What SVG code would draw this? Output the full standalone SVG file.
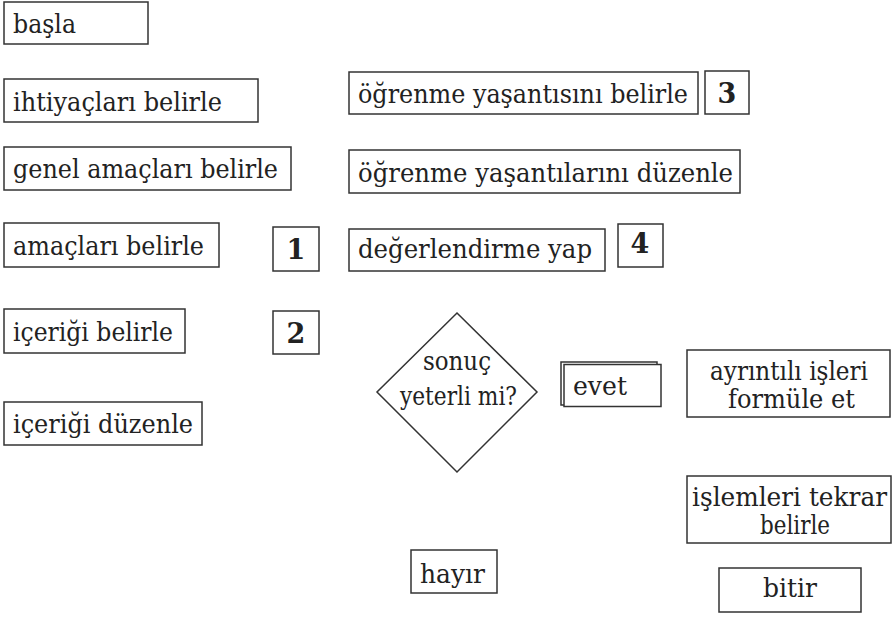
<svg xmlns="http://www.w3.org/2000/svg" width="895" height="624" viewBox="0 0 895 624">
<style>
.b{fill:#fff;stroke:#333;stroke-width:1.5}
.t{font-family:"DejaVu Serif","Liberation Serif",serif;font-size:26px;fill:#222}
.n{font-family:"DejaVu Serif","Liberation Serif",serif;font-size:27px;font-weight:bold;fill:#222;text-anchor:middle}
.c{text-anchor:middle}
</style>
<rect width="895" height="624" fill="#fff"/>
<g id="connectors"></g>
<g id="basla"><rect class="b" x="4" y="2" width="144" height="42"/><text class="t" x="13" y="33" textLength="63" lengthAdjust="spacingAndGlyphs">başla</text></g>
<g id="ihtiyaclari"><rect class="b" x="4" y="79" width="254" height="43"/><text class="t" x="13" y="111" textLength="209" lengthAdjust="spacingAndGlyphs">ihtiyaçları belirle</text></g>
<g id="genel"><rect class="b" x="4" y="147" width="287" height="43"/><text class="t" x="13" y="178" textLength="265" lengthAdjust="spacingAndGlyphs">genel amaçları belirle</text></g>
<g id="amaclari"><rect class="b" x="4" y="223" width="215" height="44"/><text class="t" x="13" y="255" textLength="191" lengthAdjust="spacingAndGlyphs">amaçları belirle</text></g>
<g id="n1"><rect class="b" x="273" y="227" width="46" height="44"/><text class="n" x="296" y="259">1</text></g>
<g id="icerigi-belirle"><rect class="b" x="4" y="309" width="181" height="44"/><text class="t" x="13" y="341" textLength="160" lengthAdjust="spacingAndGlyphs">içeriği belirle</text></g>
<g id="n2"><rect class="b" x="273" y="311" width="46" height="43"/><text class="n" x="296" y="343">2</text></g>
<g id="icerigi-duzenle"><rect class="b" x="4" y="402" width="198" height="43"/><text class="t" x="13" y="433" textLength="180" lengthAdjust="spacingAndGlyphs">içeriği düzenle</text></g>
<g id="ogrenme-belirle"><rect class="b" x="349" y="72" width="349" height="42"/><text class="t" x="358" y="103" textLength="330" lengthAdjust="spacingAndGlyphs">öğrenme yaşantısını belirle</text></g>
<g id="n3"><rect class="b" x="705" y="71" width="44" height="43"/><text class="n" x="727" y="103">3</text></g>
<g id="ogrenme-duzenle"><rect class="b" x="349" y="150" width="391" height="43"/><text class="t" x="358" y="182" textLength="375" lengthAdjust="spacingAndGlyphs">öğrenme yaşantılarını düzenle</text></g>
<g id="degerlendirme"><rect class="b" x="349" y="229" width="256" height="42"/><text class="t" x="358" y="258" textLength="234" lengthAdjust="spacingAndGlyphs">değerlendirme yap</text></g>
<g id="n4"><rect class="b" x="618" y="224" width="45" height="43"/><text class="n" x="640" y="253">4</text></g>
<g id="karar"><polygon class="b" points="457,313 537,392 457,472 377,392"/><text class="t" x="423" y="370" textLength="68" lengthAdjust="spacingAndGlyphs">sonuç</text><text class="t" x="400" y="405" textLength="117" lengthAdjust="spacingAndGlyphs">yeterli mi?</text></g>
<g id="evet"><rect class="b" x="561" y="362" width="96" height="43"/><rect class="b" x="564" y="364.5" width="97" height="42"/><text class="t" x="573" y="395" textLength="54" lengthAdjust="spacingAndGlyphs">evet</text></g>
<g id="ayrintili"><rect class="b" x="687" y="350" width="203" height="67"/><text class="t" x="710" y="380" textLength="158" lengthAdjust="spacingAndGlyphs">ayrıntılı işleri</text><text class="t" x="728" y="408" textLength="127" lengthAdjust="spacingAndGlyphs">formüle et</text></g>
<g id="islemleri"><rect class="b" x="687" y="476" width="204" height="67"/><text class="t" x="692" y="506" textLength="195" lengthAdjust="spacingAndGlyphs">işlemleri tekrar</text><text class="t" x="760" y="534" textLength="70" lengthAdjust="spacingAndGlyphs">belirle</text></g>
<g id="hayir"><rect class="b" x="411" y="550" width="86" height="43"/><text class="t" x="420" y="583" textLength="65" lengthAdjust="spacingAndGlyphs">hayır</text></g>
<g id="bitir"><rect class="b" x="719" y="568" width="142" height="44"/><text class="t" x="763" y="597" textLength="54" lengthAdjust="spacingAndGlyphs">bitir</text></g>
</svg>
